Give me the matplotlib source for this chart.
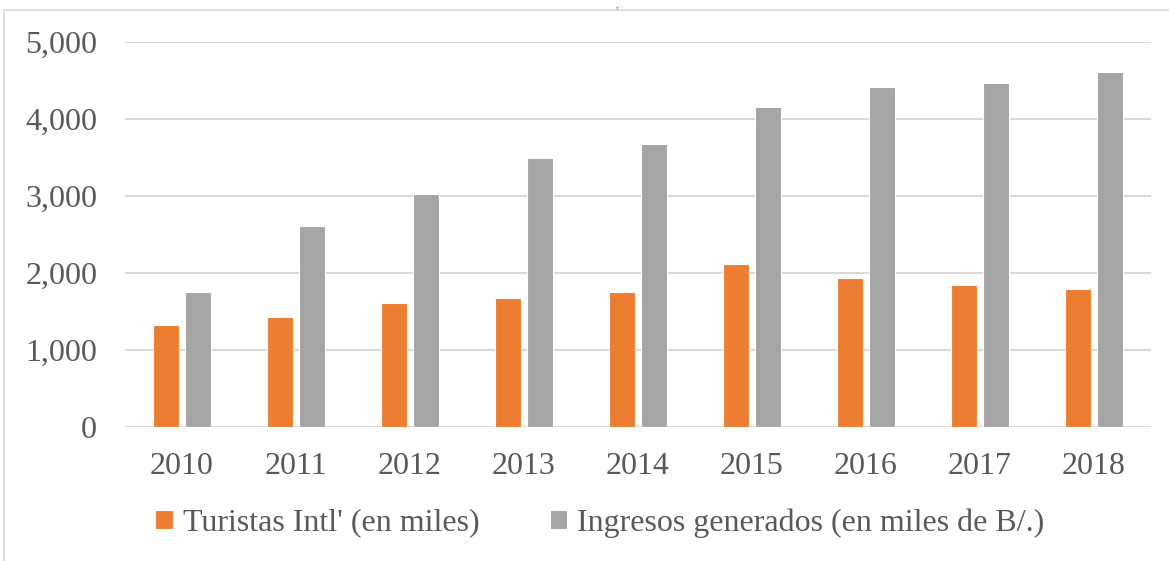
import matplotlib.pyplot as plt
import numpy as np
from matplotlib.patches import Rectangle

# datos
years = ["2010", "2011", "2012", "2013", "2014", "2015", "2016", "2017", "2018"]
turistas = [1330, 1430, 1610, 1670, 1750, 2120, 1930, 1850, 1790]
ingresos = [1750, 2610, 3020, 3500, 3675, 4150, 4410, 4470, 4610]

plt.rcParams["font.family"] = ["Liberation Serif", "DejaVu Serif"]

fig = plt.figure(figsize=(11.69, 5.61), dpi=100)
ax = fig.add_axes([0.1069, 0.2389, 0.8777, 0.6862])

x = np.arange(len(years))
w = 0.225
ax.bar(x - 0.142, turistas, w, color="#ED7D31", edgecolor="white", linewidth=0.8,
       label="Turistas Intl' (en miles)", zorder=3)
ax.bar(x + 0.142, ingresos, w, color="#A5A5A5", edgecolor="white", linewidth=0.8,
       label="Ingresos generados (en miles de B/.)", zorder=3)

ax.set_xlim(-0.5, len(years) - 0.5)
ax.set_ylim(0, 5000)
ax.set_yticks(range(0, 5001, 1000))
ax.set_yticklabels([f"{v:,}" for v in range(0, 5001, 1000)])
ax.set_xticks(x)
ax.set_xticklabels(years)
ax.yaxis.grid(True, color="#D9D9D9", linewidth=1.5, zorder=0)
ax.set_axisbelow(True)
for s in ax.spines.values():
    s.set_visible(False)
ax.tick_params(axis="both", length=0, labelsize=23, labelcolor="#595959")
ax.tick_params(axis="y", pad=20)
ax.tick_params(axis="x", pad=18)

fig.legend(loc="center", bbox_to_anchor=(0.513, 0.068), ncol=2, frameon=False,
           fontsize=23, labelcolor="#595959", handlelength=0.55, handleheight=0.55,
           handletextpad=0.3, columnspacing=2.2)

# marco del grafico
fig.patches.append(Rectangle((4 / 1169, -0.1), 1.2, (561 - 10) / 561 + 0.1,
                             transform=fig.transFigure, fill=False,
                             edgecolor="#D9D9D9", linewidth=1.2))
fig.text(617 / 1169, 0.999, ",", fontsize=8, color="#595959", ha="center", va="top")

fig.savefig("out.png", dpi=100)
